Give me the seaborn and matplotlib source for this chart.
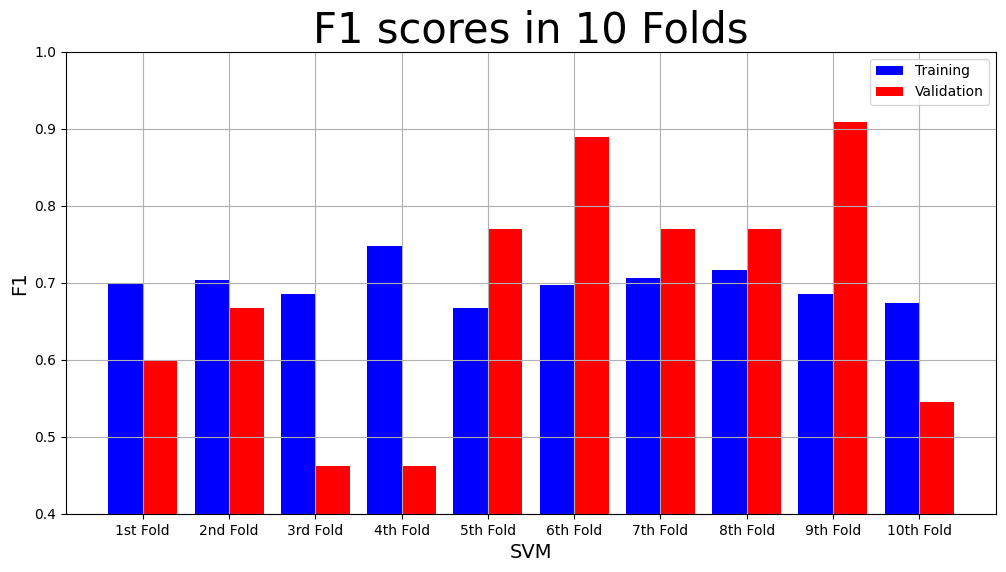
import pandas as pd
import numpy as np
import matplotlib.pyplot as plt
import seaborn as sns

# --- data ---
folds = ['1st Fold', '2nd Fold', '3rd Fold', '4th Fold', '5th Fold',
         '6th Fold', '7th Fold', '8th Fold', '9th Fold', '10th Fold']
training = [0.700, 0.704, 0.686, 0.748, 0.668, 0.698, 0.706, 0.717, 0.686, 0.674]
validation = [0.600, 0.667, 0.462, 0.462, 0.770, 0.890, 0.770, 0.770, 0.909, 0.545]

df = pd.DataFrame({
    'fold': folds * 2,
    'F1': training + validation,
    'set': ['Training'] * len(folds) + ['Validation'] * len(folds),
})

fig = plt.figure(figsize=(10.06, 5.72), dpi=100)
ax = fig.add_axes([0.0656, 0.1014, 0.9244, 0.8077])

sns.barplot(data=df, x='fold', y='F1', hue='set',
            palette={'Training': 'blue', 'Validation': 'red'},
            saturation=1, width=0.8, linewidth=0, edgecolor='none', ax=ax)

ax.set_xlim(-0.89, len(folds) - 1 + 0.89)
ax.set_ylim(0.4, 1.0)
ax.grid(True)
ax.set_title('F1 scores in 10 Folds', fontsize=30)
ax.set_xlabel('SVM', fontsize=14)
ax.set_ylabel('F1', fontsize=14)
ax.legend(loc='upper right', title=None)

plt.savefig('out.png', dpi=100)
